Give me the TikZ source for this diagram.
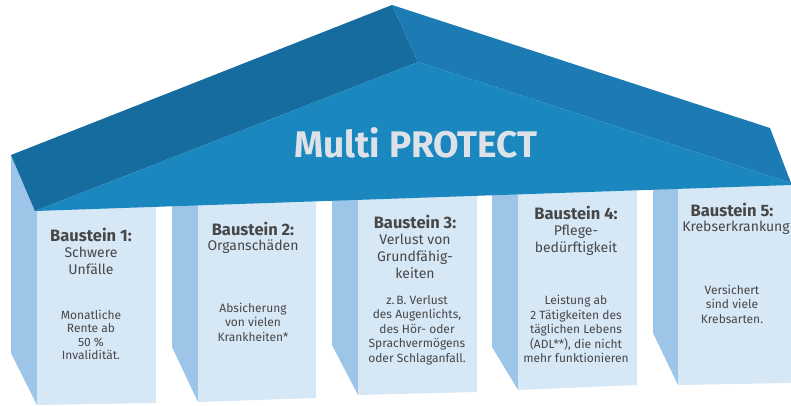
\documentclass[tikz,border=0pt]{standalone}
\usepackage{fontspec}
\setmainfont{Fira Sans}
\usepackage{xcolor}
\usetikzlibrary{positioning}
\definecolor{roofdark}{HTML}{166C9E}
\definecolor{roofmid}{HTML}{1A87BF}
\definecolor{roofright}{HTML}{1B7BB2}
\definecolor{pillarfront}{HTML}{D6E7F6}
\definecolor{pillarside}{HTML}{9DC5E8}
\definecolor{textgray}{HTML}{474747}
\definecolor{titlegray}{HTML}{DDE2E8}

\begin{document}
\begin{tikzpicture}[
    x=1pt, y=-1pt,
    front/.style={fill=pillarfront},
    side/.style={fill=pillarside},
    head/.style={font=\fontsize{16.5}{18}\selectfont\bfseries, text=textgray, inner sep=0pt},
    sub/.style={font=\fontsize{14}{17}\selectfont, text=textgray, align=center, inner sep=0pt},
    info/.style={font=\fontsize{12}{14.5}\selectfont, text=textgray, align=center, inner sep=0pt},
    title/.style={font=\fontsize{37}{40}\selectfont\bfseries, text=titlegray, inner sep=0pt}
]
\useasboundingbox (0,0) rectangle (791,406);

% pillars
\fill[side] (11,155) -- (37,205) -- (37,405) -- (11,353) -- cycle;
\fill[front] (37,205) -- (156,201) -- (156,403) -- (37,405) -- cycle;
\fill[side] (172,200) -- (198,199) -- (198,402) -- (172,347) -- cycle;
\fill[front] (198,199) -- (316,195) -- (316,398) -- (198,402) -- cycle;
\fill[side] (332,194) -- (358,193) -- (358,395) -- (332,345) -- cycle;
\fill[front] (358,193) -- (477,189) -- (477,392) -- (358,395) -- cycle;
\fill[side] (492,189) -- (518,188) -- (518,390) -- (492,347) -- cycle;
\fill[front] (518,188) -- (637,184) -- (637,385) -- (518,390) -- cycle;
\fill[side] (653,183) -- (678,182) -- (678,385) -- (653,333) -- cycle;
\fill[front] (678,182) -- (791,181) -- (791,383) -- (678,385) -- cycle;

% roof
\fill[roofdark] (11,155) -- (392,5) -- (418,62) -- (35,211) -- cycle;
\fill[roofright] (392,5) -- (770,128) -- (791,183) -- (418,62) -- cycle;
\fill[roofmid] (35,211) -- (418,62) -- (791,183) -- (791,185) -- cycle;

\node[title] (title) at (416,143) {Multi PROTECT};

\node[head] (head1) at (91,235) {Baustein 1:};
\node[sub, below=5pt of head1] (sub1) {Schwere\\Unfälle};
\node[info, font=\fontsize{12}{13.3}\selectfont] (info1) at (91,335) {Monatliche\\Rente ab\\50 \%\\Invalidität.};

\node[head] (head2) at (253,229) {Baustein 2:};
\node[sub, below=4pt of head2] (sub2) {Organschäden};
\node[info] (info2) at (253,322) {Absicherung\\von vielen\\Krankheiten*};

\node[head] (head3) at (415,222) {Baustein 3:};
\node[sub, below=5pt of head3] (sub3) {Verlust von\\Grundfähig-\\keiten};
\node[info] (info3) at (417,330) {z.\,B. Verlust\\des Augenlichts,\\des Hör- oder\\Sprachvermögens\\oder Schlaganfall.};

\node[head] (head4) at (576,213) {Baustein 4:};
\node[sub, below=5pt of head4] (sub4) {Pflege-\\bedürftigkeit};
\node[info] (info4) at (576,329) {Leistung ab\\2 Tätigkeiten des\\täglichen Lebens\\(ADL**), die nicht\\mehr funktionieren};

\node[head] (head5) at (732,210) {Baustein 5:};
\node[sub, below=4pt of head5, xshift=4pt] (sub5) {Krebserkrankung};
\node[info] (info5) at (732,304) {Versichert\\sind viele\\Krebsarten.};

\end{tikzpicture}
\end{document}
